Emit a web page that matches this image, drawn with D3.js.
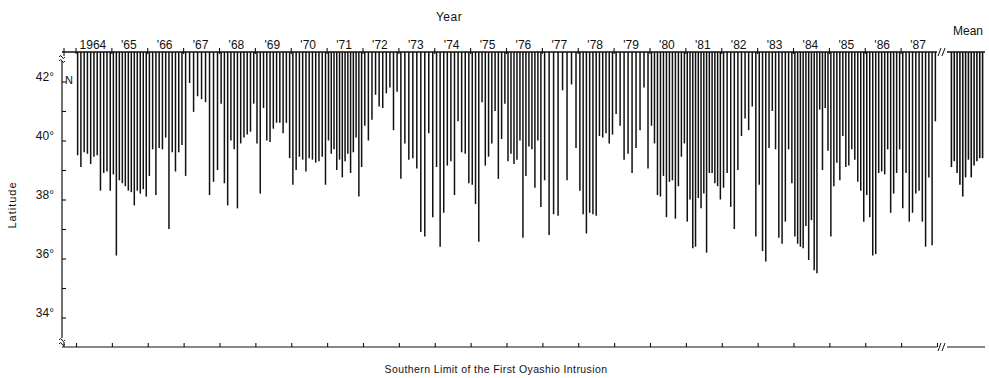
<!DOCTYPE html>
<html>
<head>
<meta charset="utf-8">
<script src="https://cdn.jsdelivr.net/npm/d3@7"></script>
<style>
  html, body { margin: 0; padding: 0; background: #fff; }
  svg { display: block; }
  text { font-family: "Liberation Sans", Arial, Helvetica, sans-serif; fill: #111; }
</style>
</head>
<body>
<svg id="chart" width="989" height="378"></svg>
<script>
// Southern limit (latitude, °N) of the first Oyashio intrusion, per observation
const years = d3.range(1964, 1988);
const yearLabels = ["1964", "'65", "'66", "'67", "'68", "'69", "'70", "'71", "'72", "'73", "'74", "'75",
                    "'76", "'77", "'78", "'79", "'80", "'81", "'82", "'83", "'84", "'85", "'86", "'87"];

const lat1964 = [39.5, 39.1, 39.6, 39.55, 39.2, 39.45, 39.5, 38.3, 38.9, 38.95, 38.3];
const lat1965 = [38.85, 36.1, 38.65, 38.55, 38.45, 38.3, 38.25, 37.8, 38.3, 38.2, 38.35, 38.1];
const lat1966 = [38.8, 39.7, 38.15, 39.75, 39.7, 40.1, 37.0, 39.6, 38.95, 39.6, 39.85];
const lat1967 = [38.8, 41.95, 40.97, 41.5, 41.4, 41.3, 38.15, 38.6, 39.0];
const lat1968 = [41.25, 38.55, 37.8, 40.0, 39.7, 37.7, 39.9, 40.1, 40.2, 40.3, 41.25];
const lat1969 = [39.9, 38.2, 41.1, 40.0, 39.95, 40.4, 40.6, 40.6, 40.25, 40.6, 39.4];
const lat1970 = [38.5, 39.0, 39.45, 39.35, 38.95, 39.4, 39.35, 39.25, 39.3, 39.45, 38.5];
const lat1971 = [40.0, 39.55, 39.7, 39.0, 39.35, 38.75, 39.3, 39.55, 38.9, 39.6, 40.1, 38.1, 39.1];
const lat1972 = [40.5, 40.0, 40.7, 41.55, 41.15, 41.1, 41.6, 41.8, 40.35, 41.65];
const lat1973 = [38.7, 39.9, 39.35, 39.4, 39.05, 36.9, 36.75, 40.25, 37.4];
const lat1974 = [39.1, 36.4, 37.55, 39.15, 39.3, 38.15, 40.65, 39.6, 39.55, 38.55];
const lat1975 = [38.5, 37.85, 36.57, 41.3, 39.15, 39.45, 39.9, 41.0, 38.7, 40.05, 41.25];
const lat1976 = [39.3, 39.55, 39.2, 39.35, 40.0, 36.7, 38.8, 39.8, 39.7, 38.4, 40.0, 37.75];
const lat1977 = [38.65, 36.8, 37.5, 37.45, 41.7, 38.65, 41.9, 39.75];
const lat1978 = [38.3, 37.5, 36.85, 37.55, 37.5, 37.45, 40.15, 40.1, 40.25, 39.9, 40.2];
const lat1979 = [40.9, 40.5, 39.35, 39.55, 38.9, 39.75, 40.35, 41.8, 39.05];
const lat1980 = [40.5, 39.9, 38.15, 38.1, 38.8, 37.4, 38.6, 38.65, 37.35, 38.45, 39.45, 39.9];
const lat1981 = [37.25, 38.0, 36.35, 36.4, 38.05, 37.7, 38.2, 36.2, 38.9, 38.9, 38.55, 38.45, 38.0];
const lat1982 = [38.4, 38.9, 37.75, 37.0, 39.0, 40.15, 40.75, 40.35, 41.15, 36.75];
const lat1983 = [38.5, 36.25, 35.9, 39.75, 41.0, 39.7, 36.7, 36.5, 37.25, 39.7, 38.55];
const lat1984 = [36.75, 36.5, 36.4, 36.35, 37.1, 35.95, 37.3, 35.6, 35.5, 41.05, 39.0, 41.1, 39.65];
const lat1985 = [36.75, 38.45, 39.25, 38.65, 40.15, 39.1, 39.15, 39.7, 39.35, 38.6, 38.3, 37.25];
const lat1986 = [38.15, 37.4, 36.1, 36.15, 38.9, 38.95, 38.85, 39.7, 37.55, 38.2, 38.9, 39.7];
const lat1987 = [37.7, 38.9, 37.25, 37.55, 38.2, 38.3, 37.25, 36.4, 38.75, 36.45, 40.65];

// Monthly mean, January to December
const meanLat = [39.1, 39.3, 38.9, 38.5, 38.1, 38.75, 39.35, 38.75, 39.15, 39.3, 39.4, 39.4];

const latTicks = [34, 35, 36, 37, 38, 39, 40, 41, 42];
const latLabels = [34, 36, 38, 40, 42];

const byYear = [lat1964, lat1965, lat1966, lat1967, lat1968, lat1969, lat1970, lat1971, lat1972,
                lat1973, lat1974, lat1975, lat1976, lat1977, lat1978, lat1979, lat1980, lat1981,
                lat1982, lat1983, lat1984, lat1985, lat1986, lat1987];

const svg = d3.select("#chart");

const plotLeft = 62, plotRight = 985, plotTop = 52, plotBottom = 347;
const breakX = 940;

const y = d3.scaleLinear().domain([33, 43]).range([plotBottom, plotTop]);
const x = d3.scaleLinear().domain([1964, 1988]).range([76, 937]);
const xm = d3.scaleLinear().domain([0, 12]).range([950, 984]);

// observations spread evenly through each year
const obs = [];
byYear.forEach((vals, i) => {
  vals.forEach((v, j) => {
    if (v != null) obs.push({ t: years[i] + (j + 0.5) / vals.length, lat: v });
  });
});

const ink = "#111";

// bars hang from the top edge (43°N) down to the observed latitude
svg.append("g").selectAll("line").data(obs).join("line")
  .attr("x1", d => x(d.t)).attr("x2", d => x(d.t))
  .attr("y1", y(43)).attr("y2", d => y(d.lat))
  .attr("stroke", ink).attr("stroke-width", 1.5);

svg.append("g").selectAll("line").data(meanLat).join("line")
  .attr("x1", (d, i) => xm(i + 0.5)).attr("x2", (d, i) => xm(i + 0.5))
  .attr("y1", y(43)).attr("y2", d => y(d))
  .attr("stroke", ink).attr("stroke-width", 1.6);

// frame lines with breaks
const frame = svg.append("g").attr("stroke", ink).attr("fill", "none");
frame.append("line").attr("x1", plotLeft).attr("x2", breakX - 3).attr("y1", plotTop).attr("y2", plotTop).attr("stroke-width", 1.4);
frame.append("line").attr("x1", breakX + 7).attr("x2", plotRight).attr("y1", plotTop).attr("y2", plotTop).attr("stroke-width", 1.4);
frame.append("line").attr("x1", plotLeft).attr("x2", breakX - 3).attr("y1", plotBottom).attr("y2", plotBottom).attr("stroke-width", 1.2);
frame.append("line").attr("x1", breakX + 7).attr("x2", plotRight).attr("y1", plotBottom).attr("y2", plotBottom).attr("stroke-width", 1.2);
frame.append("line").attr("x1", plotLeft).attr("x2", plotLeft).attr("y1", plotTop + 9).attr("y2", plotBottom - 9).attr("stroke-width", 1.2);

// axis break marks
[plotTop, plotBottom].forEach(yy => {
  [0, 4].forEach(dx => {
    frame.append("line")
      .attr("x1", breakX - 2 + dx).attr("y1", yy + 4)
      .attr("x2", breakX + 1 + dx).attr("y2", yy - 4)
      .attr("stroke-width", 1);
  });
});
[plotTop + 6, plotBottom - 6].forEach(yy => {
  [-2, 2].forEach(dy => {
    frame.append("path")
      .attr("d", `M${plotLeft - 3},${yy + dy + 1} q2,-3 3,0 q1,3 3,0`)
      .attr("stroke-width", 1);
  });
});

// latitude axis (ticks inward)
const yAxis = d3.axisRight(y).tickValues(latTicks).tickSize(4).tickFormat("");
svg.append("g").attr("transform", `translate(${plotLeft},0)`).call(yAxis)
  .call(g => g.select(".domain").remove())
  .call(g => g.selectAll("line").attr("stroke", ink).attr("stroke-width", 1.1));

svg.append("g").selectAll("text").data(latLabels).join("text")
  .attr("x", plotLeft - 8).attr("y", d => y(d) - 1)
  .attr("text-anchor", "end").attr("font-size", 12)
  .text(d => d + "°");

svg.append("text").attr("x", plotLeft + 3).attr("y", y(42) + 2)
  .attr("font-size", 11).text("N");

// year ticks across the top edge and upward from the bottom edge
const yearEdges = d3.range(1964, 1988);
svg.append("g").selectAll("line").data(yearEdges).join("line")
  .attr("x1", d => x(d)).attr("x2", d => x(d))
  .attr("y1", plotTop - 4).attr("y2", plotTop + 2)
  .attr("stroke", ink).attr("stroke-width", 1.1);
svg.append("line").attr("x1", plotLeft + 2).attr("x2", plotLeft + 2).attr("y1", plotTop - 4).attr("y2", plotTop + 4)
  .attr("stroke", ink).attr("stroke-width", 1.1);

const xAxisBottom = d3.axisTop(x).tickValues(yearEdges.concat([1988])).tickSize(4).tickFormat("");
svg.append("g").attr("transform", `translate(0,${plotBottom})`).call(xAxisBottom)
  .call(g => g.select(".domain").remove())
  .call(g => g.selectAll("line").attr("stroke", ink).attr("stroke-width", 1.1));
svg.append("line").attr("x1", plotLeft + 2).attr("x2", plotLeft + 2).attr("y1", plotBottom).attr("y2", plotBottom - 5)
  .attr("stroke", ink).attr("stroke-width", 1.1);

// year labels
svg.append("g").selectAll("text").data(years).join("text")
  .attr("x", d => x(d + 0.5) - 1).attr("y", plotTop - 3)
  .attr("text-anchor", "middle").attr("font-size", 12)
  .text((d, i) => yearLabels[i]);

svg.append("text").attr("x", 968).attr("y", 35).attr("text-anchor", "middle")
  .attr("font-size", 12).text("Mean");

// titles
svg.append("text").attr("x", 449).attr("y", 21).attr("text-anchor", "middle")
  .attr("font-size", 12).attr("letter-spacing", 0.5).text("Year");

svg.append("text").attr("transform", "translate(16,205) rotate(-90)")
  .attr("text-anchor", "middle").attr("font-size", 11).attr("letter-spacing", 1)
  .text("Latitude");

svg.append("text").attr("x", 496).attr("y", 373).attr("text-anchor", "middle")
  .attr("font-size", 10.5).attr("letter-spacing", 0.4)
  .text("Southern Limit of the First Oyashio Intrusion");
</script>
</body>
</html>
